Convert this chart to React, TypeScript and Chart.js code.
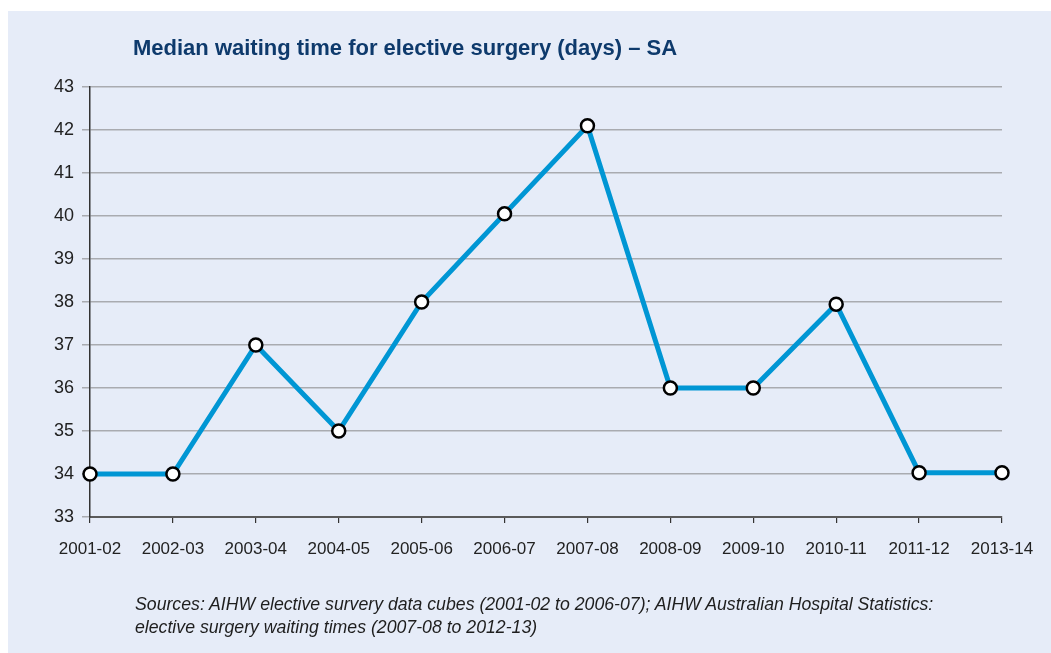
import React, { useEffect, useRef } from "react";
import { Chart, registerables } from "chart.js";

Chart.register(...registerables);

const categories = ["2001-02", "2002-03", "2003-04", "2004-05", "2005-06", "2006-07", "2007-08", "2008-09", "2009-10", "2010-11", "2011-12", "2013-14"];
const waitingDays = [34, 34, 37, 35, 38, 40.05, 42.1, 36, 36, 37.95, 34.03, 34.03];
const yTicks = [33, 34, 35, 36, 37, 38, 39, 40, 41, 42, 43];

const TITLE = "Median waiting time for elective surgery (days) – SA";
const SOURCE_1 = "Sources: AIHW elective survery data cubes (2001-02 to 2006-07); AIHW Australian Hospital Statistics:";
const SOURCE_2 = "elective surgery waiting times (2007-08 to 2012-13)";

const FONT = "'Liberation Sans', Arial, sans-serif";

export default function App() {
  const ref = useRef<HTMLCanvasElement | null>(null);

  useEffect(() => {
    if (!ref.current) return;
    const chart = new Chart(ref.current, {
      type: "line",
      data: {
        labels: categories,
        datasets: [
          {
            data: waitingDays,
            borderColor: "#0096d4",
            borderWidth: 5,
            pointBackgroundColor: "#ffffff",
            pointBorderColor: "#000000",
            pointBorderWidth: 2.5,
            pointRadius: 6.5,
            tension: 0,
            clip: false as any,
          },
        ],
      },
      options: {
        animation: false,
        responsive: false,
        maintainAspectRatio: false,
        layout: { padding: { left: 42, right: 49, top: 76, bottom: 0 } },
        plugins: { legend: { display: false }, tooltip: { enabled: false }, title: { display: false } },
        scales: {
          x: {
            offset: false,
            grid: { display: true, drawOnChartArea: false, drawTicks: true, tickLength: 6, tickColor: "#333333", lineWidth: 1.2 },
            border: { display: true, color: "#5a5a5a", width: 2 },
            ticks: { color: "#222222", font: { family: FONT, size: 17 }, padding: 16, maxRotation: 0, autoSkip: false },
            afterFit: (s: any) => { s.height = 136; },
          },
          y: {
            min: 33,
            max: 43,
            afterBuildTicks: (s: any) => { s.ticks = yTicks.map((v) => ({ value: v })); },
            grid: { color: "#a9abb0", lineWidth: 1.5, tickLength: 8, tickColor: "#a9abb0" },
            border: { display: true, color: "#333333", width: 1.5 },
            ticks: { color: "#222222", font: { family: FONT, size: 18 }, padding: 8 },
            afterFit: (s: any) => { s.width = 40; },
          },
        },
      },
    });
    return () => chart.destroy();
  }, []);

  return (
    <div style={{ position: "fixed", left: 8, top: 11, width: 1043, height: 642, background: "#e6ecf8", overflow: "hidden" }}>
      <canvas ref={ref} width={1043} height={642} style={{ position: "absolute", left: 0, top: 0 }} />
      <div style={{ position: "absolute", left: 125, top: 24, fontFamily: FONT, fontWeight: 700, fontSize: 22, color: "#0e3a6c", whiteSpace: "nowrap" }}>{TITLE}</div>
      <div style={{ position: "absolute", left: 127, top: 582, fontFamily: FONT, fontStyle: "italic", fontSize: 17.7, lineHeight: "23px", color: "#1e1e1e", whiteSpace: "nowrap" }}>
        <div>{SOURCE_1}</div>
        <div>{SOURCE_2}</div>
      </div>
    </div>
  );
}
